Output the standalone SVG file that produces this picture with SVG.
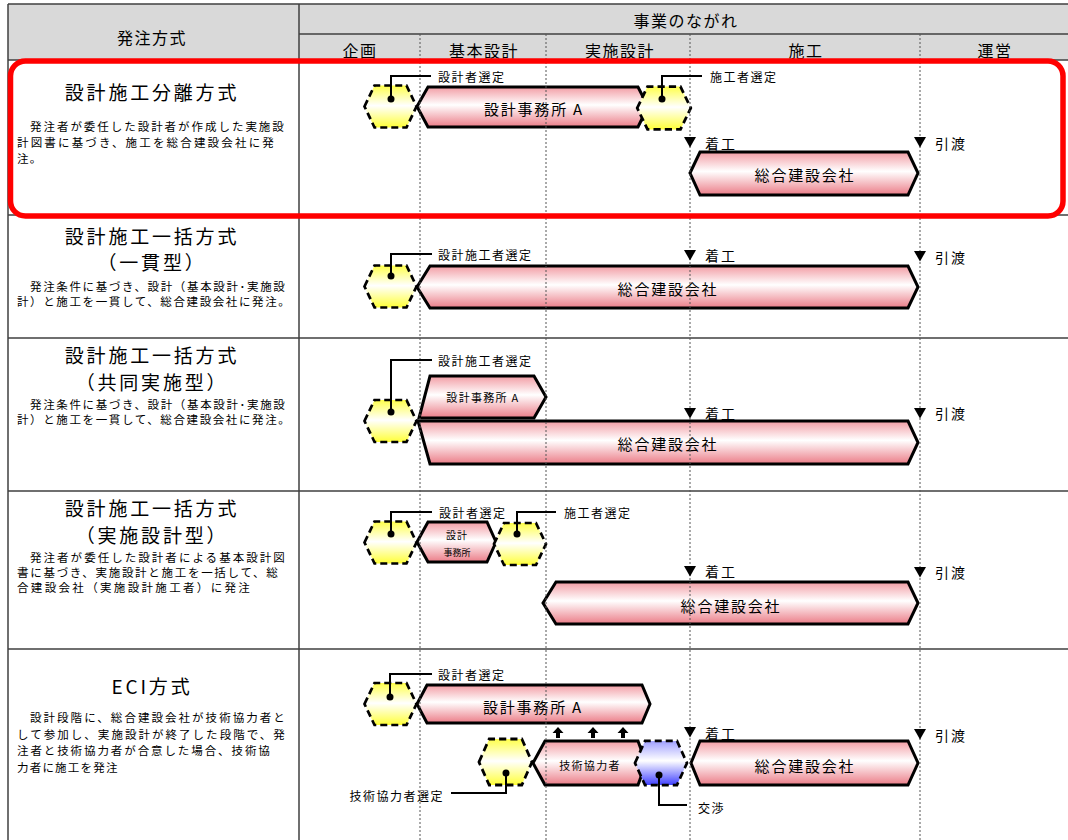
<svg xmlns="http://www.w3.org/2000/svg" xmlns:xlink="http://www.w3.org/1999/xlink" width="1068" height="840" viewBox="0 0 1068 840">
<defs>
<linearGradient id="pink" x1="0" y1="0" x2="0" y2="1">
<stop offset="0" stop-color="#f29ca4"/><stop offset="0.45" stop-color="#ffffff"/><stop offset="1" stop-color="#eb7c87"/>
</linearGradient>
<linearGradient id="yel" x1="0" y1="0" x2="0" y2="1">
<stop offset="0" stop-color="#ffff4a"/><stop offset="0.48" stop-color="#ffffff"/><stop offset="1" stop-color="#ffff38"/>
</linearGradient>
<linearGradient id="blu" x1="0" y1="0" x2="0" y2="1">
<stop offset="0" stop-color="#a0a0ff"/><stop offset="0.45" stop-color="#ffffff"/><stop offset="1" stop-color="#4040ff"/>
</linearGradient>
<polygon id="hx" points="-26,0 -16,-21 16,-21 26,0 16,21 -16,21"/>
<polygon id="tri" points="-6,0 6,0 0,10.5"/>
<path id="up" d="M0,0 L5.5,6 L2,6 L2,11 L-2,11 L-2,6 L-5.5,6 Z"/>
</defs>
<style>
.t{font-family:"Noto Sans CJK JP","Noto Sans",sans-serif;fill:#000}
.hdr{font-size:16px;letter-spacing:1.5px;text-anchor:middle;dominant-baseline:central}
.title{font-size:19px;letter-spacing:2.8px;text-anchor:middle;dominant-baseline:central}
.desc{font-size:11.5px;letter-spacing:1.2px;dominant-baseline:central}
.lbl{font-size:12px;letter-spacing:1.5px;dominant-baseline:central}
.mk{font-size:14px;letter-spacing:2px;dominant-baseline:central}
.big{font-size:15px;letter-spacing:1.8px;text-anchor:middle;dominant-baseline:central}
.sm{font-size:11px;letter-spacing:1.3px;text-anchor:middle;dominant-baseline:central}
.arrow{fill:url(#pink);stroke:#000;stroke-width:3;stroke-linejoin:miter}
.hexy{fill:url(#yel);stroke:#000;stroke-width:2.7;stroke-dasharray:7 4}
.hexb{fill:url(#blu);stroke:#000;stroke-width:2.7;stroke-dasharray:7 4}
.co{fill:none;stroke:#000;stroke-width:2}
.grid{fill:none;stroke:#404040;stroke-width:1.5}
.phase{fill:none;stroke:#555;stroke-width:1;stroke-dasharray:2 2}
</style>
<rect width="1068" height="840" fill="#fff"/>
<g id="header">
<rect x="8" y="4" width="1060" height="56" fill="#d9d9d9"/>
<text class="t hdr" x="152" y="37">発注方式</text>
<text class="t hdr" x="686" y="20">事業のながれ</text>
<text class="t hdr" x="360" y="50">企画</text>
<text class="t hdr" x="484" y="50">基本設計</text>
<text class="t hdr" x="620" y="50">実施設計</text>
<text class="t hdr" x="806" y="50">施工</text>
<text class="t hdr" x="995" y="50">運営</text>
</g>
<g id="grid">
<path class="grid" d="M8,4 H1068 M8,4 V840 M299,4 V840 M299,34 H1068 M8,60 H1068 M8,215 H1068 M8,338 H1068 M8,491 H1068 M8,649 H1068"/>
</g>
<g id="row-labels">
<g id="label-bunri">
<text class="t title" x="152" y="91">設計施工分離方式</text>
<text class="t desc" x="30" y="126" textLength="255" lengthAdjust="spacing">発注者が委任した設計者が作成した実施設</text>
<text class="t desc" x="17" y="142" textLength="258" lengthAdjust="spacing">計図書に基づき、施工を総合建設会社に発</text>
<text class="t desc" x="17" y="158">注。</text>
</g>
<g id="label-ikkan">
<text class="t title" x="152" y="235">設計施工一括方式</text>
<text class="t title" x="152" y="261">（一貫型）</text>
<text class="t desc" x="30" y="286" textLength="256" lengthAdjust="spacing">発注条件に基づき、設計（基本設計･実施設</text>
<text class="t desc" x="17" y="301" textLength="274" lengthAdjust="spacing">計）と施工を一貫して、総合建設会社に発注。</text>
</g>
<g id="label-kyodo">
<text class="t title" x="152" y="354">設計施工一括方式</text>
<text class="t title" x="152" y="381">（共同実施型）</text>
<text class="t desc" x="30" y="404" textLength="256" lengthAdjust="spacing">発注条件に基づき、設計（基本設計･実施設</text>
<text class="t desc" x="17" y="419" textLength="274" lengthAdjust="spacing">計）と施工を一貫して、総合建設会社に発注。</text>
</g>
<g id="label-jisshi">
<text class="t title" x="152" y="507">設計施工一括方式</text>
<text class="t title" x="152" y="534">（実施設計型）</text>
<text class="t desc" x="30" y="557" textLength="256" lengthAdjust="spacing">発注者が委任した設計者による基本設計図</text>
<text class="t desc" x="17" y="572" textLength="262" lengthAdjust="spacing">書に基づき、実施設計と施工を一括して、総</text>
<text class="t desc" x="17" y="587" textLength="234" lengthAdjust="spacing">合建設会社（実施設計施工者）に発注</text>
</g>
<g id="label-eci">
<text class="t title" x="152" y="685">ECI方式</text>
<text class="t desc" x="30" y="717" textLength="256" lengthAdjust="spacing">設計段階に、総合建設会社が技術協力者と</text>
<text class="t desc" x="17" y="734" textLength="269" lengthAdjust="spacing">して参加し、実施設計が終了した段階で、発</text>
<text class="t desc" x="17" y="750" textLength="254" lengthAdjust="spacing">注者と技術協力者が合意した場合、技術協</text>
<text class="t desc" x="17" y="767">力者に施工を発注</text>
</g>
</g>
<g id="row1">
<g id="r1-sekkei"><polygon class="arrow" points="417,106.5 428,87 638,87 648,106.5 638,127 428,127"/><text class="t big" x="534" y="108">設計事務所 A</text></g>
<g id="r1-sekou"><polygon class="arrow" points="690,173 700,152 908,152 918,173 908,195 700,195"/><text class="t big" x="805" y="174">総合建設会社</text></g>
<g id="r1-hex1"><use xlink:href="#hx" href="#hx" class="hexy" transform="translate(390.5,106.5)"/></g>
<g id="r1-hex2"><use xlink:href="#hx" href="#hx" class="hexy" transform="translate(664,108) scale(1.03,1.02)"/></g>
</g>
<g id="row2">
<g id="r2-sekou"><polygon class="arrow" points="417,287 430,266 908,266 918,287 908,308 430,308"/><text class="t big" x="668" y="288">総合建設会社</text></g>
<g id="r2-hex1"><use xlink:href="#hx" href="#hx" class="hexy" transform="translate(390.5,286.5)"/></g>
</g>
<g id="row3">
<g id="r3-sekkei"><polygon class="arrow" points="430,376 534,376 546,397 534,418 419,418"/><text class="t sm" x="483" y="397">設計事務所 A</text></g>
<g id="r3-sekou"><polygon class="arrow" points="418,421 908,421 918,442.5 908,464 430,464"/><text class="t big" x="668" y="443">総合建設会社</text></g>
<g id="r3-hex1"><use xlink:href="#hx" href="#hx" class="hexy" transform="translate(390.5,421)"/></g>
</g>
<g id="row4">
<g id="r4-sekkei"><polygon class="arrow" points="417,542 428,522 487,522 496,542 487,562 428,562"/><text class="t" x="457" y="534" font-size="10" text-anchor="middle" dominant-baseline="central" letter-spacing="1">設計</text><text class="t" x="457" y="552" font-size="9" text-anchor="middle" dominant-baseline="central">事務所</text></g>
<g id="r4-sekou"><polygon class="arrow" points="543,603 556,582 908,582 918,603 908,624 556,624"/><text class="t big" x="731" y="605">総合建設会社</text></g>
<g id="r4-hex1"><use xlink:href="#hx" href="#hx" class="hexy" transform="translate(390.5,542.5)"/></g>
<g id="r4-hex2"><use xlink:href="#hx" href="#hx" class="hexy" transform="translate(520,544)"/></g>
</g>
<g id="row5">
<g id="r5-sekkei"><polygon class="arrow" points="417,704 427,685 642,685 650,704 642,723 427,723"/><text class="t big" x="533" y="706">設計事務所 A</text></g>
<g id="r5-kyoryoku"><polygon class="arrow" points="533,763 545,741 638,741 646,763 638,785 545,785"/><text class="t sm" x="590" y="765">技術協力者</text></g>
<g id="r5-sekou"><polygon class="arrow" points="691,763 700,741 908,741 918,763 908,785 700,785"/><text class="t big" x="805" y="765">総合建設会社</text></g>
<g id="r5-hex1"><use xlink:href="#hx" href="#hx" class="hexy" transform="translate(390.5,704)"/></g>
<g id="r5-hex2"><use xlink:href="#hx" href="#hx" class="hexy" transform="translate(505.5,762) scale(1.02,1.1)"/></g>
<g id="r5-hex3"><use xlink:href="#hx" href="#hx" class="hexb" transform="translate(661,763) scale(1,1.05)"/></g>
<g id="r5-up">
<use xlink:href="#up" href="#up" transform="translate(558,727)"/>
<use xlink:href="#up" href="#up" transform="translate(593,727)"/>
<use xlink:href="#up" href="#up" transform="translate(623,727)"/>
</g>
</g>
<g id="phases">
<path class="phase" d="M420,34 V840 M546,34 V840 M690,34 V840 M920,34 V840"/>
</g>
<g id="connectors">
<path class="co" d="M391,99 V76 H431 M662,99 V76 H702 M391,276 V254 H432 M391,412 V360 H432 M391,534 V512 H432 M517,534 V512 H556 M390,697 V674 H432 M506,773 V793 H451 M659,775 V805 H687"/>
<circle cx="391" cy="99" r="3.5"/><circle cx="662" cy="99" r="3.5"/><circle cx="391" cy="276" r="3.5"/><circle cx="391" cy="412" r="3.5"/><circle cx="391" cy="534" r="3.5"/><circle cx="517" cy="534" r="3.5"/><circle cx="390" cy="697" r="3.5"/><circle cx="506" cy="773" r="3.5"/><circle cx="659" cy="775" r="3.5"/>
</g>
<g id="callout-labels">
<text class="t lbl" x="438" y="76">設計者選定</text>
<text class="t lbl" x="710" y="76">施工者選定</text>
<text class="t lbl" x="438" y="254">設計施工者選定</text>
<text class="t lbl" x="438" y="360">設計施工者選定</text>
<text class="t lbl" x="439" y="512">設計者選定</text>
<text class="t lbl" x="564" y="512">施工者選定</text>
<text class="t lbl" x="438" y="674">設計者選定</text>
<text class="t lbl" x="444" y="795" text-anchor="end">技術協力者選定</text>
<text class="t lbl" x="698" y="807">交渉</text>
</g>
<g id="milestones">
<use xlink:href="#tri" href="#tri" transform="translate(690,137)"/><text class="t mk" x="705" y="143">着工</text>
<use xlink:href="#tri" href="#tri" transform="translate(920,137)"/><text class="t mk" x="935" y="143">引渡</text>
<use xlink:href="#tri" href="#tri" transform="translate(690,250)"/><text class="t mk" x="705" y="255">着工</text>
<use xlink:href="#tri" href="#tri" transform="translate(920,251)"/><text class="t mk" x="935" y="257">引渡</text>
<use xlink:href="#tri" href="#tri" transform="translate(690,408)"/><text class="t mk" x="705" y="413">着工</text>
<use xlink:href="#tri" href="#tri" transform="translate(920,408)"/><text class="t mk" x="935" y="413">引渡</text>
<use xlink:href="#tri" href="#tri" transform="translate(690,566)"/><text class="t mk" x="705" y="571">着工</text>
<use xlink:href="#tri" href="#tri" transform="translate(920,567)"/><text class="t mk" x="935" y="572">引渡</text>
<use xlink:href="#tri" href="#tri" transform="translate(690,727)"/><text class="t mk" x="705" y="733">着工</text>
<use xlink:href="#tri" href="#tri" transform="translate(920,729)"/><text class="t mk" x="935" y="735">引渡</text>
</g>
<g id="highlight">
<rect x="10.5" y="61" width="1052.5" height="155" rx="15" fill="none" stroke="#ff0000" stroke-width="5.5"/>
</g>
</svg>
